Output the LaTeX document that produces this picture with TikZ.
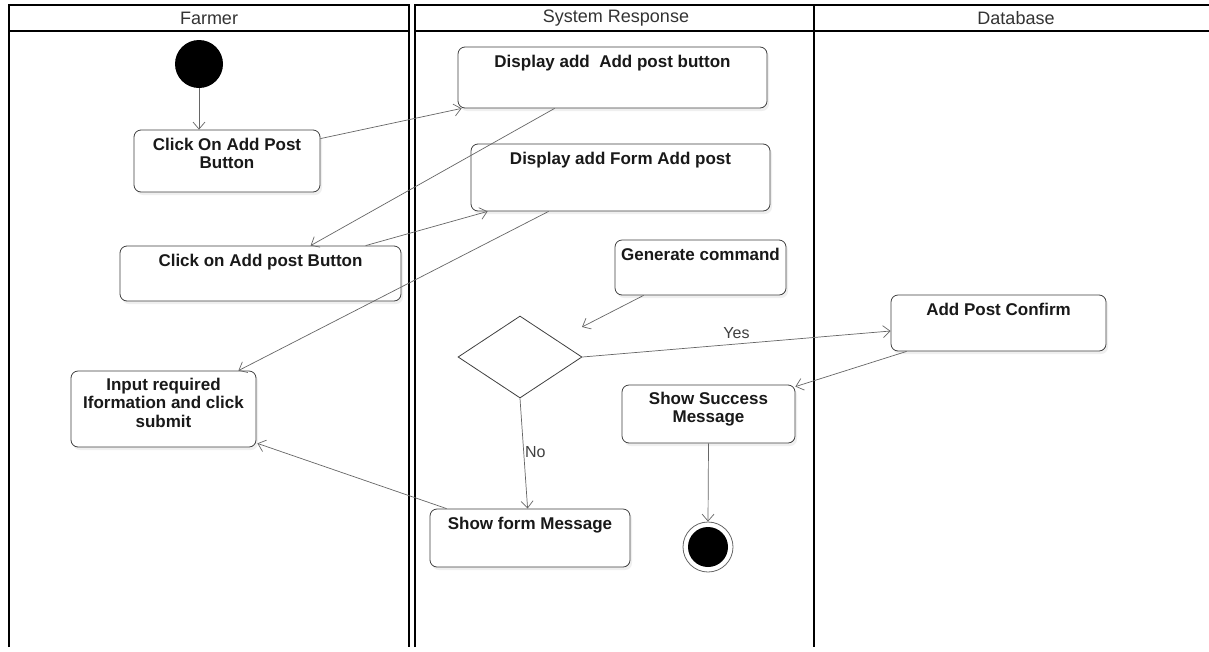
\documentclass[tikz,border=0pt]{standalone}
\usepackage{fontspec}
\setmainfont{Liberation Sans}
\usetikzlibrary{arrows.meta,calc,shapes.geometric,shadows}
\begin{document}
\begin{tikzpicture}[x=1pt,y=-1pt,
  lane/.style={line width=1.4pt, draw=black},
  hdr/.style={font=\fontsize{18}{20}\selectfont, text=black!80, inner sep=0pt},
  actbox/.style={draw=black!75, line width=0.8pt, rounded corners=7pt, fill=white, inner sep=0pt,
    drop shadow={shadow xshift=2pt, shadow yshift=-3pt, opacity=0.12}},
  acttxt/.style={font=\bfseries\fontsize{17}{18.5}\selectfont, align=center, inner sep=0pt, anchor=north, text=black!90},
  flow/.style={draw=black!60, line width=0.7pt, -{Straight Barb[length=7pt,width=12pt]}},
  guard/.style={font=\fontsize{16}{18}\selectfont, text=black!75, inner sep=1pt},
]
\useasboundingbox[fill=white] (0,0) rectangle (1209,651);

% swimlanes
\draw[lane] (9,647) -- (9,5) -- (409,5) -- (409,647);
\draw[lane] (9,31) -- (409,31);
\draw[lane] (415,647) -- (415,5) -- (1209,5);
\draw[lane] (415,31) -- (1209,31);
\draw[lane] (814,5) -- (814,647);
\node[hdr] (hfarmer) at (209,18) {Farmer};
\node[hdr] (hsys) at (616,18) {System Response};
\node[hdr] (hdb) at (1016,18) {Database};

% start
\node[circle, fill=black, minimum size=48pt, inner sep=0pt] (start) at (199,64) {};

% activity boxes
\node[actbox, minimum width=186pt, minimum height=62pt] (b1) at (227,161) {};
\node[acttxt] (t1) at ($(b1.north)+(0,8)$) {Click On Add Post\\Button};

\node[actbox, minimum width=309pt, minimum height=61pt] (b2) at (612.5,77.5) {};
\node[acttxt] (t2) at ($(b2.north)+(0,8)$) {Display add\ \ Add post button};

\node[actbox, minimum width=299pt, minimum height=67pt] (b3) at (620.5,177.5) {};
\node[acttxt] (t3) at ($(b3.north)+(0,8)$) {Display add Form Add post};

\node[actbox, minimum width=281pt, minimum height=55pt] (b4) at (260.5,273.5) {};
\node[acttxt] (t4) at ($(b4.north)+(0,8)$) {Click on Add post Button};

\node[actbox, minimum width=171pt, minimum height=55pt] (b5) at (700.5,267.5) {};
\node[acttxt] (t5) at ($(b5.north)+(0,8)$) {Generate command};

\node[draw=black!75, line width=0.8pt, diamond, fill=white, minimum width=124pt, minimum height=82pt, inner sep=0pt] (d) at (520,357) {};

\node[actbox, minimum width=215pt, minimum height=56pt] (b6) at (998.5,323) {};
\node[acttxt] (t6) at ($(b6.north)+(0,8)$) {Add Post Confirm};

\node[actbox, minimum width=173pt, minimum height=58pt] (b7) at (708.5,414) {};
\node[acttxt] (t7) at ($(b7.north)+(0,7)$) {Show Success\\Message};

\node[actbox, minimum width=185pt, minimum height=76pt] (b8) at (163.5,409) {};
\node[acttxt] (t8) at ($(b8.north)+(0,7)$) {Input required\\Iformation and click\\submit};

\node[actbox, minimum width=200pt, minimum height=58pt] (b9) at (530,538) {};
\node[acttxt] (t9) at ($(b9.north)+(0,8)$) {Show form Message};

% end
\node[circle, draw=black!60, line width=0.8pt, fill=white, minimum size=50pt, inner sep=0pt] (endo) at (708,547) {};
\node[circle, fill=black, minimum size=40pt, inner sep=0pt] (endi) at (endo) {};

\coordinate (g) at (582,327);

% connectors
\draw[flow] (start.south) -- (start.south |- b1.north);
\draw[flow] ($(b1.north east)+(0,9)$) -- ($(b2.south west)+(4,0)$);
\draw[flow] ($(b2.south west)+(97,0)$) -- ($(b4.north west)+(191,0)$);
\draw[flow] ($(b4.north west)+(246,0)$) -- ($(b3.south west)+(17,0)$);
\draw[flow] ($(b3.south west)+(78,0)$) -- ($(b8.north east)+(-18,0)$);
\draw[flow] ($(b5.south west)+(29,0)$) -- (g);
\draw[flow] (d.east) -- node[guard, pos=0.5, above=4pt] (yes) {Yes} ($(b6.west)+(0,8)$);
\draw[flow] ($(b6.south west)+(16,0)$) -- ($(b7.north east)+(0,2)$);
\draw[flow] (d.south) -- node[guard, pos=0.49, right=0pt] (no) {No} ($(b9.north west)+(98,0)$);
\draw[flow] ($(b9.north west)+(17,0)$) -- ($(b8.south east)+(1,-4)$);
\draw[flow] (b7.south) -- (endo.north);
\end{tikzpicture}
\end{document}
